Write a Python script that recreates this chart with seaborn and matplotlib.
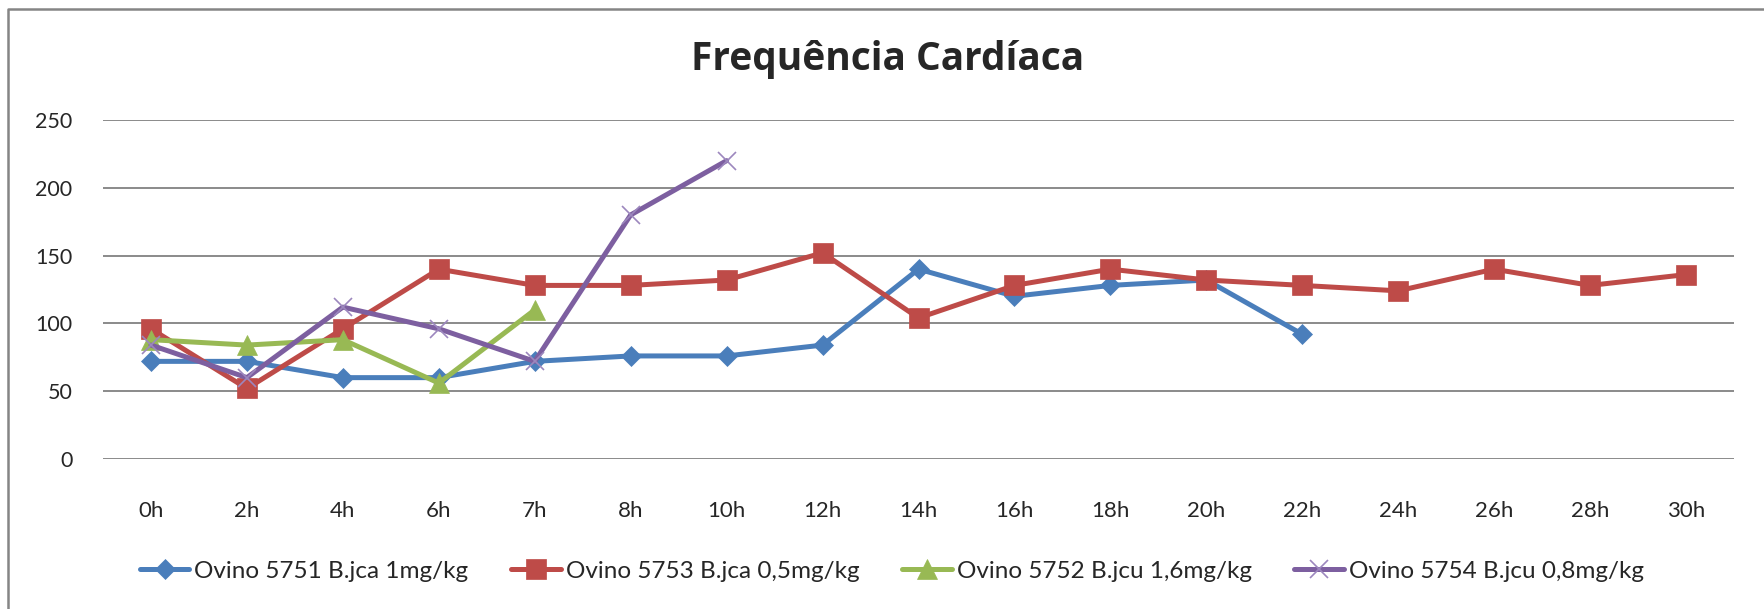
import matplotlib
matplotlib.use("Agg")
import matplotlib.pyplot as plt
import numpy as np
import pandas as pd
import seaborn as sns
from matplotlib.lines import Line2D

horas = ["0h", "2h", "4h", "6h", "7h", "8h", "10h", "12h", "14h",
         "16h", "18h", "20h", "22h", "24h", "26h", "28h", "30h"]

ovino_5751 = [72, 72, 60, 60, 72, 76, 76, 84, 140, 120, 128, 132, 92]
ovino_5753 = [96, 52, 96, 140, 128, 128, 132, 152, 104, 128, 140, 132, 128,
              124, 140, 128, 136]
ovino_5752 = [88, 84, 88, 56, 110]
ovino_5754 = [84, 60, 112, 96, 72, 180, 220]

series = [
    ("Ovino 5751 B.jca 1mg/kg", ovino_5751),
    ("Ovino 5753 B.jca 0,5mg/kg", ovino_5753),
    ("Ovino 5752 B.jcu 1,6mg/kg", ovino_5752),
    ("Ovino 5754 B.jcu 0,8mg/kg", ovino_5754),
]

# excel 2007 palette
cores = ["#4A7EBB", "#BE4B48", "#98B954", "#7D5FA0"]
marcadores = ["D", "s", "^", "x"]
tamanhos = [10.5, 14, 14, 13]


def build_frame():
    rows = []
    for nome, valores in series:
        for i, v in enumerate(valores):
            rows.append({"serie": nome, "pos": i, "hora": horas[i], "fc": v})
    return pd.DataFrame(rows)


df = build_frame()

sns.set_style("white")
plt.rcParams["font.family"] = ["Lato", "DejaVu Sans"]

fig = plt.figure(figsize=(17.64, 6.09), dpi=100)
ax = fig.add_axes([0.0584, 0.2463, 0.9246, 0.5567])

for (nome, _), cor, mk, ms in zip(series, cores, marcadores, tamanhos):
    sub = df[df["serie"] == nome]
    sns.lineplot(
        data=sub, x="pos", y="fc", ax=ax, color=cor, linewidth=3.6,
        marker=mk, markersize=ms, markeredgecolor=cor if mk != "x" else "#9C87BE",
        markeredgewidth=1.2 if mk == "x" else 0.5, label=nome,
    )

ax.set_xlim(-0.5, len(horas) - 0.5)
ax.set_ylim(0, 250)
ax.set_xticks(range(len(horas)))
ax.set_xticklabels(horas)
ax.set_yticks(range(0, 251, 50))
ax.set_xlabel("")
ax.set_ylabel("")
ax.grid(axis="y", color="#8a8a8a", linewidth=1.4)
ax.grid(axis="x", visible=False)
ax.set_axisbelow(True)
for s in ax.spines.values():
    s.set_visible(False)
ax.tick_params(axis="x", length=0, pad=30, labelsize=16)
ax.tick_params(axis="y", length=0, pad=22, labelsize=15.5)

ax.get_legend().remove()
handles, labels = ax.get_legend_handles_labels()
fig.legend(handles, labels, loc="center", bbox_to_anchor=(0.5055, 0.062),
           ncol=4, frameon=False, fontsize=17.5, handlelength=2.05,
           columnspacing=1.75, handletextpad=0.2)

fig.text(0.503, 0.902, "Frequência Cardíaca", ha="center", va="center",
         fontsize=28, fontweight="bold", family=["Open Sans", "DejaVu Sans"])

# only the top and left edges of the chart frame are visible
borda_x = [0.0048, 0.0048, 1.0]
borda_y = [0.0, 0.986, 0.986]
fig.add_artist(Line2D(borda_x, borda_y, transform=fig.transFigure,
                      color="#858585", linewidth=1.8))

fig.savefig("out.png", dpi=100)
